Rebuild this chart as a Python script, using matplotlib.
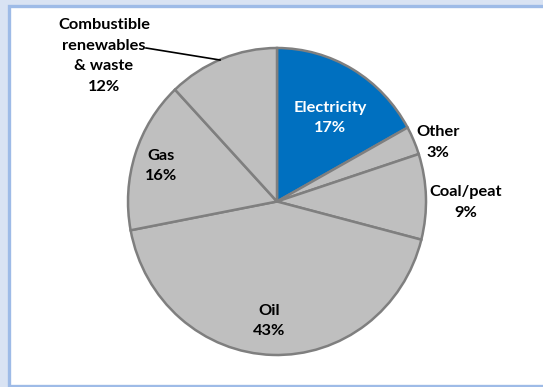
import matplotlib
matplotlib.use("Agg")
import matplotlib.pyplot as plt
from matplotlib.patches import Rectangle

categories = ["Electricity", "Other", "Coal/peat", "Oil", "Gas", "Combustible\nrenewables\n& waste"]
shares = [17, 3, 9, 43, 16, 12]
share_labels = ["17%", "3%", "9%", "43%", "16%", "12%"]
colors = ["#0070C0", "#BFBFBF", "#BFBFBF", "#BFBFBF", "#BFBFBF", "#BFBFBF"]

W, H = 543, 387
fig = plt.figure(figsize=(W / 100, H / 100), dpi=100)
fig.patch.set_facecolor("#D9E3F3")

# frame
frame = Rectangle((8.5 / W, 1.5 / H), (W + 10) / W, (H - 7) / H,
                  transform=fig.transFigure, facecolor="white",
                  edgecolor="#9EBBE7", linewidth=2.4, zorder=-10)
fig.patches.append(frame)

ax = fig.add_axes([0, 0, 1, 1], zorder=1)
ax.patch.set_alpha(0)
cx, cy = 277.0, 201.5
rx, ry = 149.0, 153.5

ax.pie(shares, colors=colors, startangle=90, counterclock=False,
       wedgeprops=dict(edgecolor="#7F7F7F", linewidth=1.8))
ax.set_aspect("auto")
ax.set_xlim(-cx / rx, (W - cx) / rx)
ax.set_ylim((cy - H) / ry, cy / ry)
ax.axis("off")

def px(x, y):
    return ((x - cx) / rx, (cy - y) / ry)

label_px = [(330, 118), (438, 142.5), (466, 202.5), (269, 321), (161, 166), (104, 56)]
font = dict(family="Lato", weight="bold", fontsize=11.8)
for i, (cat, lab) in enumerate(zip(categories, share_labels)):
    x, y = px(*label_px[i])
    ax.text(x, y, cat + "\n" + lab, ha="center", va="center",
            color="white" if i == 0 else "black", linespacing=1.62, **font)

# leader line for combustible renewables
x0, y0 = px(146, 48)
x1, y1 = px(220, 60)
ax.plot([x0, x1], [y0, y1], color="black", linewidth=1.2)

fig.savefig("out.png", dpi=100, facecolor=fig.get_facecolor())
